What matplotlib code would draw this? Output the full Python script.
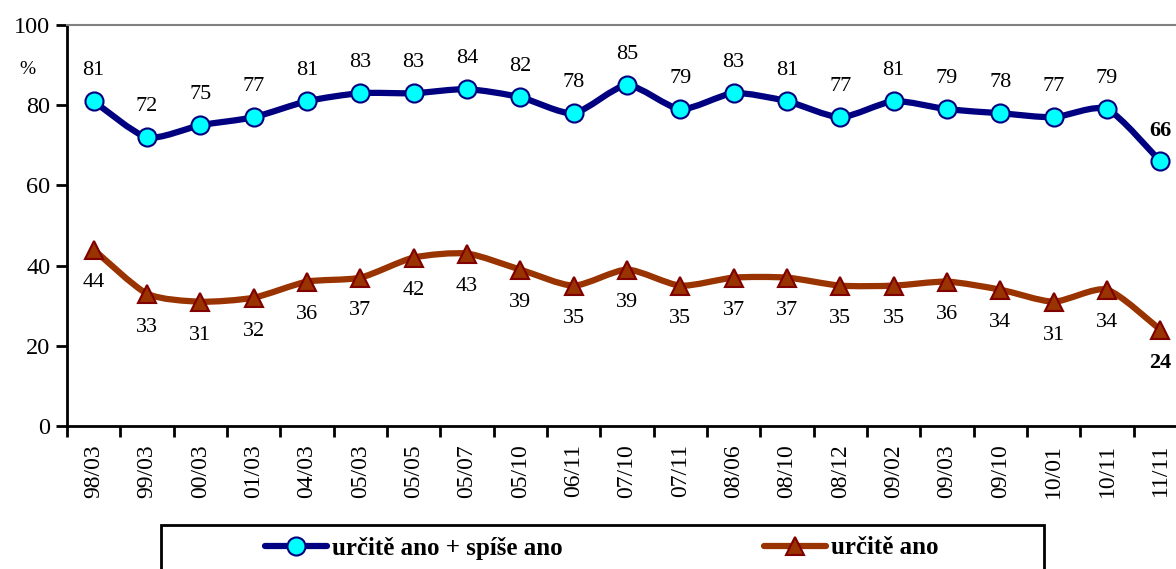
import matplotlib
matplotlib.use("Agg")
import matplotlib.pyplot as plt
from matplotlib.path import Path
from matplotlib.patches import PathPatch, Rectangle
from matplotlib.lines import Line2D
import numpy as np

categories = ["98/03", "99/03", "00/03", "01/03", "04/03", "05/03", "05/05", "05/07",
              "05/10", "06/11", "07/10", "07/11", "08/06", "08/10", "08/12", "09/02",
              "09/03", "09/10", "10/01", "10/11", "11/11"]
total_yes = [81, 72, 75, 77, 81, 83, 83, 84, 82, 78, 85, 79, 83, 81, 77, 81, 79, 78, 77, 79, 66]
definitely_yes = [44, 33, 31, 32, 36, 37, 42, 43, 39, 35, 39, 35, 37, 37, 35, 35, 36, 34, 31, 34, 24]
series_names = ["určitě ano + spíše ano", "určitě ano"]
yticks = [0, 20, 40, 60, 80, 100]

plt.rcParams['font.family'] = ['Liberation Serif', 'DejaVu Serif']

W, H = 1176, 569
fig = plt.figure(figsize=(W / 100, H / 100), dpi=100)
ax_left, ax_right, ax_top, ax_bottom = 67, 1187, 25, 426
ax = fig.add_axes([ax_left / W, 1 - ax_bottom / H, (ax_right - ax_left) / W, (ax_bottom - ax_top) / H])

x = np.arange(len(categories))


def smooth_path(xs, ys, t=0.35):
    xs = np.asarray(xs, float)
    ys = np.asarray(ys, float)
    n = len(xs)
    verts = [(xs[0], ys[0])]
    codes = [Path.MOVETO]
    for i in range(n - 1):
        p0 = np.array([xs[max(i - 1, 0)], ys[max(i - 1, 0)]])
        p1 = np.array([xs[i], ys[i]])
        p2 = np.array([xs[i + 1], ys[i + 1]])
        p3 = np.array([xs[min(i + 2, n - 1)], ys[min(i + 2, n - 1)]])
        c1 = p1 + (p2 - p0) * t / 3
        c2 = p2 - (p3 - p1) * t / 3
        verts += [tuple(c1), tuple(c2), tuple(p2)]
        codes += [Path.CURVE4] * 3
    return Path(verts, codes)


blue_line = "#000080"
blue_face = "#00FFFF"
brown_line = "#993300"
brown_edge = "#800000"

for ys, col in [(total_yes, blue_line), (definitely_yes, brown_line)]:
    patch = PathPatch(smooth_path(x, ys), facecolor="none", edgecolor=col, lw=4.5,
                      capstyle="round", joinstyle="round", zorder=3)
    ax.add_patch(patch)

ax.plot(x, total_yes, linestyle="none", marker="o", markersize=13,
        markerfacecolor=blue_face, markeredgecolor=blue_line, markeredgewidth=1.5, zorder=4)
ax.plot(x, definitely_yes, linestyle="none", marker="^", markersize=13.5,
        markerfacecolor=brown_line, markeredgecolor=brown_edge, markeredgewidth=1.5, zorder=4)

n = len(categories)
for i in range(n):
    bold = (i == n - 1)
    ax.annotate(str(total_yes[i]), (x[i], total_yes[i]), xytext=(0, 22), textcoords="offset points",
                ha="center", va="center", fontsize=16, fontweight="bold" if bold else "normal",
                color="black", zorder=5)
    ax.annotate(str(definitely_yes[i]), (x[i], definitely_yes[i]), xytext=(0, -24), textcoords="offset points",
                ha="center", va="center", fontsize=16, fontweight="bold" if bold else "normal",
                color="black", zorder=5)

ax.set_xlim(-0.5, n - 0.5)
ax.set_ylim(0, 100)
ax.set_yticks(yticks)
ax.set_yticklabels([str(v) for v in yticks], fontsize=17.5)
ax.tick_params(axis="y", direction="out", length=8, width=2, pad=4)

ax.set_xticks(np.arange(n + 1) - 0.5)
ax.set_xticklabels([])
ax.tick_params(axis="x", which="major", direction="out", length=8, width=2)
ax.set_xticks(x, minor=True)
ax.set_xticklabels(categories, minor=True, rotation=90, fontsize=17)
ax.tick_params(axis="x", which="minor", length=0, pad=13)

for s in ["left", "bottom"]:
    ax.spines[s].set_linewidth(2)
    ax.spines[s].set_color("black")
ax.spines["right"].set_visible(False)
ax.spines["top"].set_color("#808080")
ax.spines["top"].set_linewidth(1.5)

fig.text(27 / W, 1 - 70 / H, "%", fontsize=14, ha="center", va="center")

# legend frame
rect = Rectangle((161 / W, 1 - 600 / H), (1044 - 161) / W, (600 - 525) / H,
                 transform=fig.transFigure, facecolor="white", edgecolor="black", lw=2, clip_on=False)
fig.add_artist(rect)

h1 = Line2D([], [], color=blue_line, lw=4.5, marker="o", markersize=13,
            markerfacecolor=blue_face, markeredgecolor=blue_line, markeredgewidth=1.5, solid_capstyle="round")
h2 = Line2D([], [], color=brown_line, lw=4.5, marker="^", markersize=13.5,
            markerfacecolor=brown_line, markeredgecolor=brown_edge, markeredgewidth=1.5, solid_capstyle="round")
leg = fig.legend([h1, h2], series_names, loc="center left", bbox_to_anchor=(252 / W, 1 - 548 / H),
                 ncol=2, frameon=False, borderpad=0, handlelength=2.5, handletextpad=0.2,
                 columnspacing=8.05, numpoints=1, prop={"family": "Liberation Serif", "weight": "bold", "size": 18})

fig.savefig("out.png", dpi=100)
